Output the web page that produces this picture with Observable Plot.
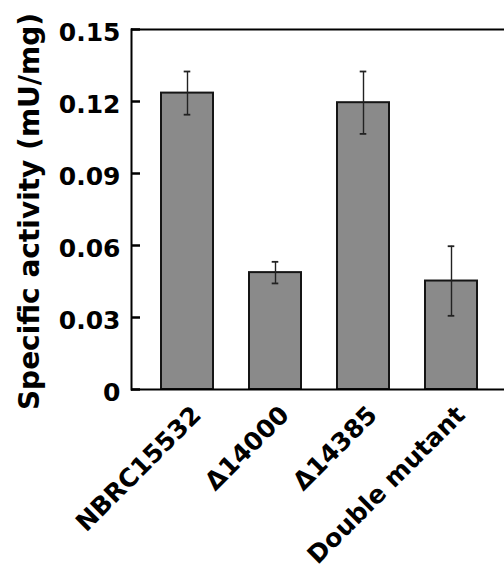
<!DOCTYPE html>
<html><head><meta charset="utf-8">
<script src="https://cdn.jsdelivr.net/npm/d3@7"></script>
<script src="https://cdn.jsdelivr.net/npm/@observablehq/plot@0.6"></script>
<style>html,body{margin:0;padding:0;background:#fff;overflow:hidden}</style>
</head><body><div id="chart"></div>
<script>
const strains = ["NBRC15532", "Δ14000", "Δ14385", "Double mutant"];
const activity = [0.1235, 0.0487, 0.1195, 0.0452];
const errors = [0.009, 0.0045, 0.013, 0.0145];
const yTicks = [0, 0.03, 0.06, 0.09, 0.12, 0.15];
const yLabel = "Specific activity (mU/mg)";

const data = strains.map((s, i) => ({strain: s, value: activity[i], lo: activity[i] - errors[i], hi: activity[i] + errors[i]}));

const W = 504, ML = 131, TICK = 9;
const font = "'DejaVu Sans', sans-serif";
const plot = Plot.plot({
  width: W, height: 568,
  marginLeft: ML, marginRight: 0, marginTop: 29, marginBottom: 179,
  style: {fontFamily: font, background: "white", color: "black", overflow: "hidden"},
  x: {domain: strains, range: [129, 508], paddingInner: 0.41, paddingOuter: 0.34, axis: null},
  y: {domain: [0, 0.15], axis: null},
  marks: [
    Plot.barY(data, {x: "strain", y: "value", fill: "#8a8a8a", stroke: "#151515", strokeWidth: 2}),
    Plot.ruleX(data, {x: "strain", y1: "lo", y2: "hi", stroke: "#222", strokeWidth: 1.4}),
    Plot.tickY(data, {x: "strain", y: "lo", stroke: "#222", strokeWidth: 1.8, inset: 22.7}),
    Plot.tickY(data, {x: "strain", y: "hi", stroke: "#222", strokeWidth: 1.8, inset: 22.7}),
    Plot.ruleY([0, 0.15], {stroke: "black", strokeWidth: 2}),
    Plot.frame({anchor: "left", stroke: "black", strokeWidth: 2}),
    Plot.axisY(yTicks, {anchor: "left", tickSize: 0, tickPadding: 11, label: null,
      tickFormat: d => d === 0 ? "0" : d.toFixed(2), fontSize: 25, fontWeight: "bold", dy: 3}),
    Plot.text(strains, {x: d => d, frameAnchor: "bottom", textAnchor: "end", lineAnchor: "bottom",
      rotate: -45, dx: 15, dy: 27, fontSize: 25, fontWeight: "bold"}),
    Plot.text([yLabel], {frameAnchor: "left", rotate: -90, lineAnchor: "bottom", textAnchor: "middle",
      dx: -93, dy: 2, fontSize: 28, fontWeight: "bold"}),
    Plot.tickY(yTicks, {y: d => d, insetRight: W - ML - TICK, stroke: "black", strokeWidth: 2.5})
  ]
});
document.getElementById("chart").append(plot);
</script>
</body></html>
